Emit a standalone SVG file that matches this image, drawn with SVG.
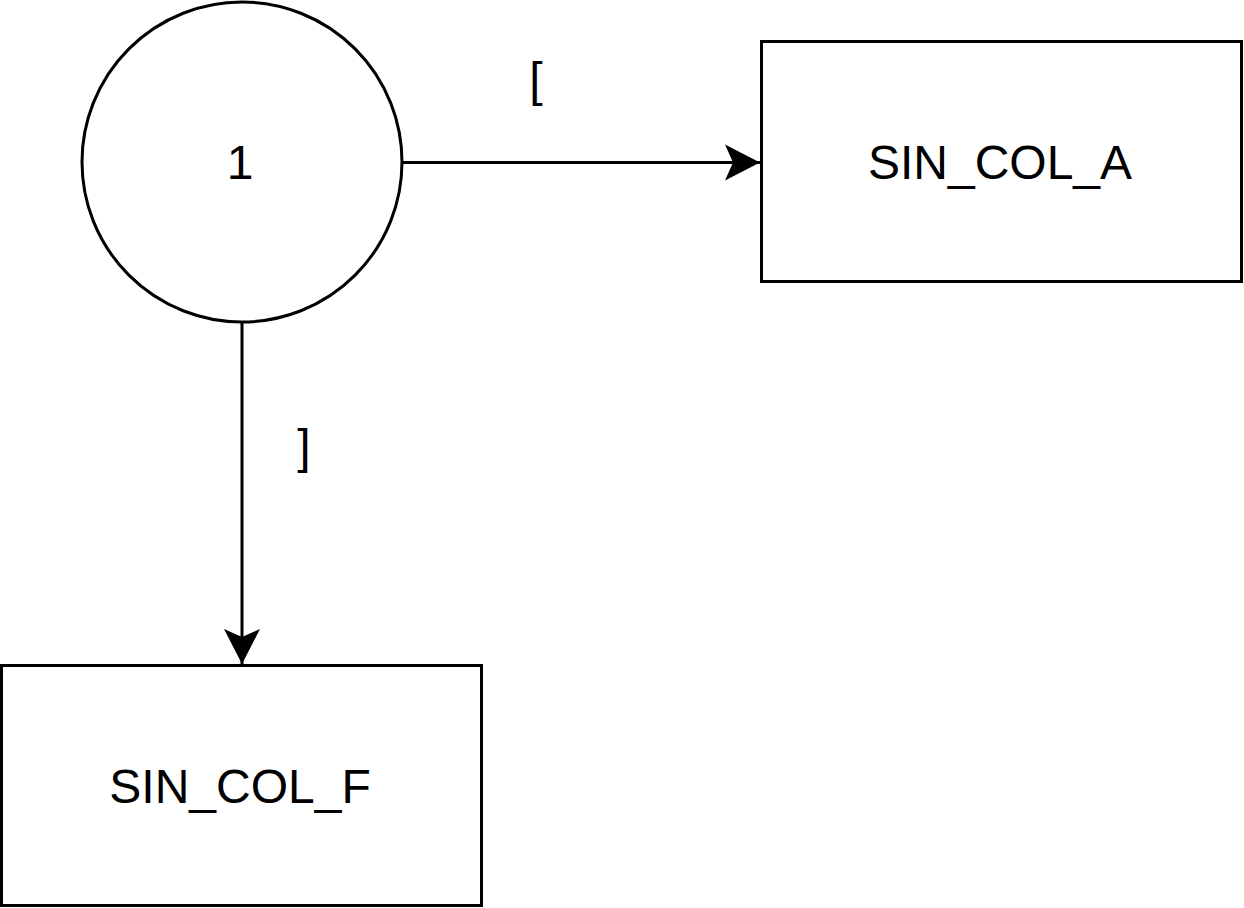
<svg xmlns="http://www.w3.org/2000/svg" width="1244" height="908" viewBox="0 0 1244 908">
<style>
.n{fill:#fff;stroke:#000;stroke-width:3}
.t{font-family:"Liberation Sans",Arial,sans-serif;font-size:48px;fill:#000;text-anchor:middle}
.e{fill:none;stroke:#000;stroke-width:3}
</style>
<defs>
<marker id="arr" markerUnits="userSpaceOnUse" markerWidth="40" markerHeight="40" viewBox="0 0 40 40" refX="37" refY="20" orient="auto">
<path d="M37,20 L2,2 L10,20 L2,38 Z" fill="#000"/>
</marker>
</defs>
<rect width="1244" height="908" fill="#fff"/>
<g id="connectors">
<line class="e" x1="402" y1="162.5" x2="760" y2="162.5" marker-end="url(#arr)"/>
<line class="e" x1="242" y1="322" x2="242" y2="664" marker-end="url(#arr)"/>
<text class="t" x="536" y="96">[</text>
<text class="t" x="304" y="463">]</text>
</g>
<g id="node1">
<circle class="n" cx="242" cy="162" r="160"/>
<text class="t" x="240" y="179">1</text>
</g>
<g id="sinA">
<rect class="n" x="761.5" y="41.5" width="480" height="240"/>
<text class="t" x="1000" y="179">SIN_COL_A</text>
</g>
<g id="sinF">
<rect class="n" x="1.5" y="665.5" width="480" height="240"/>
<text class="t" x="240" y="803">SIN_COL_F</text>
</g>
</svg>
